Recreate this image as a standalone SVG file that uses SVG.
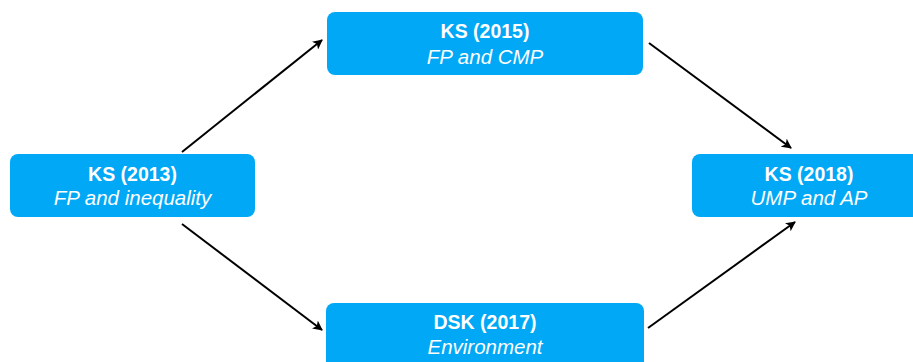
<svg xmlns="http://www.w3.org/2000/svg" width="913" height="362" viewBox="0 0 913 362">
<style>
.box{fill:#00A8F5;}
.t{font-family:"Liberation Sans",Arial,sans-serif;font-size:19.5px;font-weight:bold;fill:#fff;text-anchor:middle;}
.s{font-family:"Liberation Sans",Arial,sans-serif;font-size:20.5px;font-style:italic;fill:#fff;text-anchor:middle;}
.c{stroke:#000;stroke-width:2;fill:none;marker-end:url(#ah);}
</style>
<defs>
<marker id="ah" viewBox="0 0 10 10" refX="9" refY="5" markerWidth="5" markerHeight="5" orient="auto" markerUnits="strokeWidth">
<path d="M0,0 L10,5 L0,10 L2.5,5 z" fill="#000"/>
</marker>
</defs>
<g id="connectors">
<line class="c" x1="182" y1="152" x2="322" y2="40"/>
<line class="c" x1="649" y1="43" x2="791" y2="148"/>
<line class="c" x1="182" y1="224" x2="322" y2="330"/>
<line class="c" x1="648" y1="328" x2="795" y2="222"/>
</g>
<g id="ks2013">
<rect class="box" x="10" y="154" width="245" height="63" rx="8"/>
<text class="t" x="132.5" y="181">KS (2013)</text>
<text class="s" x="132.5" y="205">FP and inequality</text>
</g>
<g id="ks2015">
<rect class="box" x="327" y="12" width="316" height="63" rx="8"/>
<text class="t" x="485" y="38">KS (2015)</text>
<text class="s" x="485" y="64">FP and CMP</text>
</g>
<g id="ks2018">
<rect class="box" x="692" y="154" width="235" height="63" rx="8"/>
<text class="t" x="809" y="181">KS (2018)</text>
<text class="s" x="809" y="205">UMP and AP</text>
</g>
<g id="dsk2017">
<rect class="box" x="326" y="303" width="318" height="66" rx="8"/>
<text class="t" x="485" y="329">DSK (2017)</text>
<text class="s" x="485" y="354">Environment</text>
</g>
</svg>
